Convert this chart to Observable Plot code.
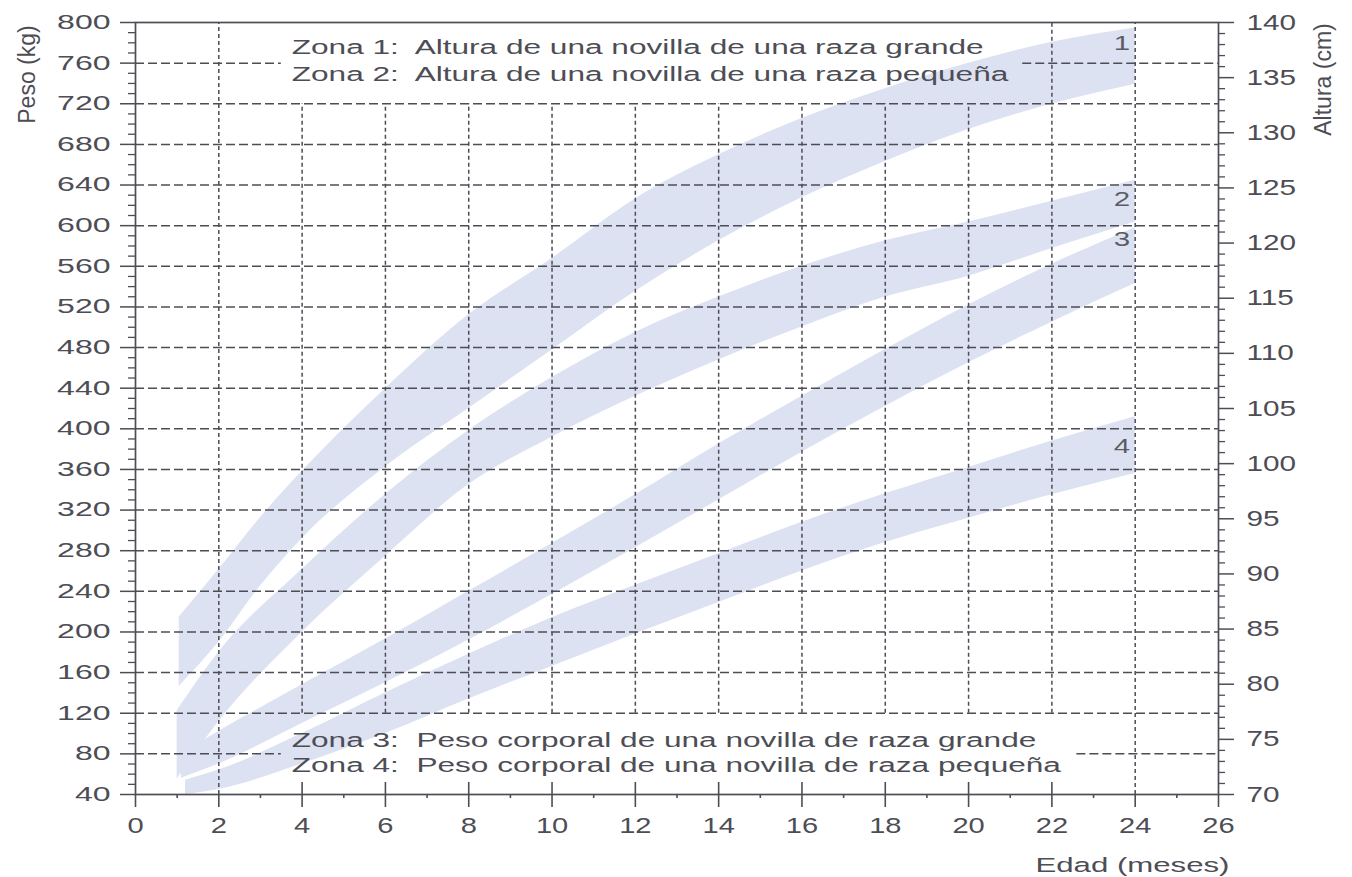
<!DOCTYPE html>
<html><head><meta charset="utf-8">
<script src="https://cdn.jsdelivr.net/npm/d3@7"></script>
<script src="https://cdn.jsdelivr.net/npm/@observablehq/plot@0.6"></script>
<style>
body{margin:0;background:#fff;}
#chart svg{display:block;}
svg text{white-space:pre;}
</style></head><body><div id="chart"></div>
<script>
// ---- Zona 1: altura, novilla de raza grande (cm)
const months1 = [1.05, 2, 3, 4, 6, 8, 10, 12, 14, 16, 18, 20, 22, 24];
const zona1Low  = [79.8, 83.8, 88.9, 93.2, 99.7, 105.0, 110.3, 115.6, 120.2, 124.1, 127.4, 130.3, 132.6, 134.4];
const zona1High = [86.1, 90.4, 95.1, 99.3, 106.8, 113.5, 118.6, 124.0, 128.0, 131.3, 134.0, 136.3, 138.2, 139.5];
// ---- Zona 2: altura, novilla de raza pequeña (cm)
const months2 = [1.0, 2, 4, 6, 8, 10, 12, 14, 16, 18, 20, 22, 24];
const zona2Low  = [71.4, 76.6, 84.7, 91.6, 98.1, 102.4, 106.1, 109.4, 112.4, 115.1, 117.0, 119.5, 121.9];
const zona2High = [77.6, 82.9, 90.4, 97.2, 103.0, 107.8, 111.9, 115.1, 117.9, 120.2, 121.9, 123.8, 125.7];
// ---- Zona 3: peso corporal, raza grande (kg)
const months3 = [1.1, 2, 4, 6, 8, 10, 12, 14, 16, 18, 20, 22, 24];
const zona3Low  = [56, 70, 110, 150, 192, 237, 283, 330, 377, 422, 465, 505, 543];
const zona3High = [80, 102, 148, 193, 240, 287, 335, 385, 432, 478, 522, 562, 598];
// ---- Zona 4: peso corporal, raza pequeña (kg)
const months4 = [1.2, 2, 4, 6, 8, 10, 12, 14, 16, 18, 20, 22, 24];
const zona4Low  = [40, 45, 70, 100, 134, 166, 198, 229, 260, 288, 312, 335, 356];
const zona4High = [54, 64, 100, 140, 178, 214, 246, 277, 308, 336, 362, 388, 412];

// ---- ticks / labels
const xTicks = d3.range(0, 27, 2);
const xMinor = d3.range(1, 26, 2);
const pesoTicks = d3.range(40, 801, 40);
const pesoMinor = d3.range(40, 801, 10).filter(d => d % 40 !== 0);
const alturaTicks = d3.range(70, 141, 5);
const alturaMinor = d3.range(70, 141, 1).filter(d => d % 5 !== 0);
const notesTop = ["Zona 1:  Altura de una novilla de una raza grande", "Zona 2:  Altura de una novilla de una raza pequeña"];
const notesBottom = ["Zona 3:  Peso corporal de una novilla de raza grande", "Zona 4:  Peso corporal de una novilla de raza pequeña"];
const zoneNames = ["1", "2", "3", "4"];
const xLabel = "Edad (meses)", yLabel = "Peso (kg)", y2Label = "Altura (cm)";

// cm (right axis) -> kg (left axis) position
const toKg = cm => 40 + (cm - 70) * 760 / 70;
const toCm = kg => 70 + (kg - 40) * 70 / 760;

function band(zone, months, lo, hi, conv = d => d) {
  return months.map((m, i) => ({zone, m, lo: conv(lo[i]), hi: conv(hi[i])}));
}
const rows = [
  ...band("1", months1, zona1Low, zona1High, toKg),
  ...band("2", months2, zona2Low, zona2High, toKg),
  ...band("3", months3, zona3Low, zona3High),
  ...band("4", months4, zona4Low, zona4High)
];
const labelRows = [
  {z: zoneNames[0], y: toKg(zona1High.at(-1)) - 15},
  {z: zoneNames[1], y: toKg(zona2High.at(-1)) - 19},
  {z: zoneNames[2], y: zona3High.at(-1) - 11},
  {z: zoneNames[3], y: zona4High.at(-1) - 29}
];

const ink = "#4d4d55";
const hDash = "9,4", vDash = "4,3";
const gw = 1.5;

const plot = Plot.plot({
  width: 1352, height: 877,
  marginLeft: 135, marginRight: 134, marginTop: 22, marginBottom: 83,
  x: {domain: [0, 26]},
  y: {domain: [40, 800]},
  style: {fontFamily: "'Liberation Sans', Arial, sans-serif", color: ink, background: "#fff", overflow: "visible"},
  marks: [
    Plot.areaY(rows, {x: "m", y1: "lo", y2: "hi", z: "zone", fill: "#dde2f2", curve: "monotone-x"}),
    // horizontal grid
    Plot.ruleY(pesoTicks.filter(d => d >= 120 && d <= 720), {x1: 0, x2: 26, stroke: ink, strokeWidth: gw, strokeDasharray: hDash}),
    Plot.ruleY([760], {x1: 0, x2: 3.5, stroke: ink, strokeWidth: gw, strokeDasharray: hDash}),
    Plot.ruleY([760], {x1: 21.3, x2: 26, stroke: ink, strokeWidth: gw, strokeDasharray: hDash}),
    Plot.ruleY([80], {x1: 0, x2: 3.5, stroke: ink, strokeWidth: gw, strokeDasharray: hDash}),
    Plot.ruleY([80], {x1: 22.6, x2: 26, stroke: ink, strokeWidth: gw, strokeDasharray: hDash}),
    // vertical grid
    Plot.ruleX([2, 24], {y1: 40, y2: 800, stroke: ink, strokeWidth: gw, strokeDasharray: vDash}),
    Plot.ruleX(xTicks.filter(d => d >= 4 && d <= 20), {y1: 120, y2: 720, stroke: ink, strokeWidth: gw, strokeDasharray: vDash}),
    Plot.ruleX([22], {y1: 120, y2: 800, stroke: ink, strokeWidth: gw, strokeDasharray: vDash}),
    Plot.frame({stroke: ink, strokeWidth: 1.7}),
    // left axis (kg)
    Plot.axisY(pesoTicks, {anchor: "left", tickSize: 15, tickPadding: 10, fontSize: 20, stroke: ink, strokeWidth: 1.5, fill: ink, label: null}),
    Plot.axisY(pesoMinor, {anchor: "left", tickSize: 7, stroke: ink, strokeWidth: 1.3, fill: "none", label: null}),
    // right axis (cm)
    Plot.axisY(alturaTicks.map(toKg), {anchor: "right", tickSize: 15, tickPadding: 13, fontSize: 22, stroke: ink, strokeWidth: 1.5, fill: ink, label: null, tickFormat: d => String(Math.round(toCm(d)))}),
    Plot.axisY(alturaMinor.map(toKg), {anchor: "right", tickSize: 6, stroke: ink, strokeWidth: 1.3, fill: "none", label: null}),
    // x axis
    Plot.axisX(xTicks, {anchor: "bottom", tickSize: 13, tickPadding: 10, fontSize: 21.5, stroke: ink, strokeWidth: 1.6, fill: ink, label: null}),
    Plot.axisX(xTicks.filter(d => d >= 4 && d <= 22), {anchor: "bottom", tickSize: 12, dy: -12, stroke: ink, strokeWidth: 1.6, fill: "none", label: null}),
    Plot.axisX(xMinor, {anchor: "bottom", tickSize: 4, stroke: ink, strokeWidth: 1.6, fill: "none", label: null}),
    // notes
    Plot.text([notesTop[0]], {x: 3.75, y: 775.4, text: d => d, textAnchor: "start", lineAnchor: "middle", fontSize: 19.5, fill: ink, ariaDescription: "nota"}),
    Plot.text([notesTop[1]], {x: 3.75, y: 748.8, text: d => d, textAnchor: "start", lineAnchor: "middle", fontSize: 19.5, fill: ink, ariaDescription: "nota"}),
    Plot.text([notesBottom[0]], {x: 3.75, y: 93.2, text: d => d, textAnchor: "start", lineAnchor: "middle", fontSize: 19.5, fill: ink, ariaDescription: "nota"}),
    Plot.text([notesBottom[1]], {x: 3.75, y: 68.6, text: d => d, textAnchor: "start", lineAnchor: "middle", fontSize: 19.5, fill: ink, ariaDescription: "nota"}),
    Plot.text(labelRows, {x: 24, y: "y", text: "z", dx: -5, textAnchor: "end", lineAnchor: "middle", fontSize: 21, fill: "#5c5c64", ariaDescription: "zona"}),
    // axis titles
    Plot.text([yLabel], {frameAnchor: "top-left", dx: -108, dy: 52, rotate: -90, fontSize: 23, fill: ink, lineAnchor: "middle", textAnchor: "middle"}),
    Plot.text([y2Label], {frameAnchor: "top-right", dx: 105, dy: 57, rotate: -90, fontSize: 23, fill: ink, lineAnchor: "middle", textAnchor: "middle"}),
    Plot.text([xLabel], {frameAnchor: "bottom-right", dx: 11, dy: 71, fontSize: 20.5, fill: ink, textAnchor: "end", lineAnchor: "middle", ariaDescription: "xtitle"})
  ]
});
document.getElementById("chart").append(plot);

// horizontal widening of the lettering, as in the reference print
function stretch(texts, k) {
  texts.forEach(t => {
    const L = t.getComputedTextLength();
    if (L > 0) {
      t.setAttribute("textLength", (L * k).toFixed(1));
      t.setAttribute("lengthAdjust", "spacingAndGlyphs");
    }
  });
}
plot.querySelectorAll('g[aria-label$="tick label"]').forEach(g => {
  const a = g.getAttribute("text-anchor");
  const k = a === "end" ? 1.6 : 1.35;
  stretch(g.querySelectorAll("text"), k);
});
const notes = [...notesTop, ...notesBottom];
const all = [...plot.querySelectorAll("text")];
stretch(all.filter(t => notes.includes(t.textContent)), 1.62);
stretch(all.filter(t => t.textContent === xLabel), 1.52);
stretch([...plot.querySelectorAll('g[aria-description="zona"] text')], 1.4);
</script>
</body></html>
